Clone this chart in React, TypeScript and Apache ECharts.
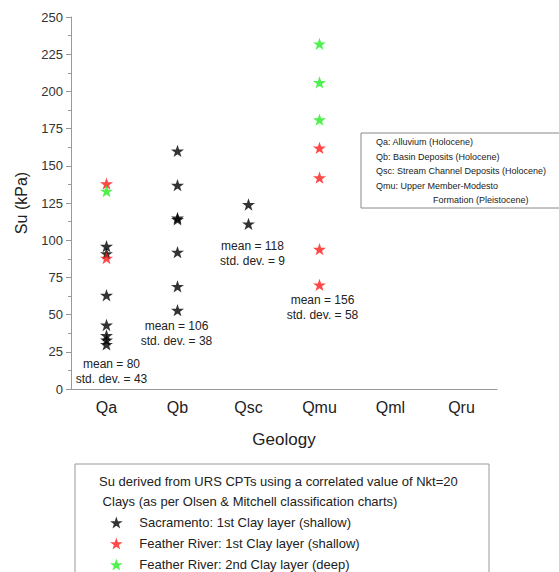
import React, { useEffect, useRef } from "react";
import * as echarts from "echarts";

const categories = ["Qa", "Qb", "Qsc", "Qmu", "Qml", "Qru"];

const sacramento: [string, number][] = [
  ["Qa", 96], ["Qa", 91], ["Qa", 63], ["Qa", 43], ["Qa", 36], ["Qa", 33], ["Qa", 30],
  ["Qb", 160], ["Qb", 137], ["Qb", 115], ["Qb", 114], ["Qb", 92], ["Qb", 69], ["Qb", 53],
  ["Qsc", 124], ["Qsc", 111],
];
const featherShallow: [string, number][] = [
  ["Qa", 138], ["Qa", 88],
  ["Qmu", 162], ["Qmu", 142], ["Qmu", 94], ["Qmu", 70],
];
const featherDeep: [string, number][] = [
  ["Qa", 133],
  ["Qmu", 232], ["Qmu", 206], ["Qmu", 181],
];

const statNotes = [
  { cat: "Qa", y: 12, dx: 5, text: "mean = 80\nstd. dev. = 43" },
  { cat: "Qb", y: 37, dx: -1, text: "mean = 106\nstd. dev. = 38" },
  { cat: "Qsc", y: 91, dx: 4, text: "mean = 118\nstd. dev. = 9" },
  { cat: "Qmu", y: 55, dx: 3, text: "mean = 156\nstd. dev. = 58" },
];

const geologyNotes = [
  "Qa: Alluvium (Holocene)",
  "Qb: Basin Deposits (Holocene)",
  "Qsc: Stream Channel Deposits (Holocene)",
  "Qmu: Upper Member-Modesto",
  "Formation (Pleistocene)",
];

const legendHeader = [
  "Su derived from URS CPTs using a correlated value of Nkt=20",
  " Clays (as per Olsen & Mitchell classification charts)",
];

const seriesNames = [
  "Sacramento: 1st Clay layer (shallow)",
  "Feather River: 1st Clay layer (shallow)",
  "Feather River: 2nd Clay layer (deep)",
];

const STAR =
  "path://M50,0 L61.8,35.1 L98.1,35.1 L68.8,56.7 L79.4,91 L50,70 L20.6,91 L31.2,56.7 L1.9,35.1 L38.2,35.1 Z";

const FONT = "Liberation Sans, Arial, sans-serif";

export default function App() {
  const ref = useRef<HTMLDivElement>(null);
  useEffect(() => {
    if (!ref.current) return;
    const chart = echarts.init(ref.current, null, { renderer: "svg" });
    const colors = ["#000000", "#ff1a1a", "#22ee22"];
    const datasets = [sacramento, featherShallow, featherDeep];
    const series: any[] = datasets.map((d, i) => ({
      name: seriesNames[i],
      type: "scatter",
      data: d,
      symbol: STAR,
      symbolSize: 13,
      symbolKeepAspect: true,
      itemStyle: { color: colors[i] },
      z: i === 2 ? 3 : 2,
    }));
    series[0].markPoint = {
      symbol: "circle",
      symbolSize: 0,
      silent: true,
      data: statNotes.map((n) => ({
        coord: [n.cat, n.y],
        label: {
          show: true,
          formatter: n.text,
          position: "inside",
          offset: [n.dx, 0],
          fontSize: 12,
          lineHeight: 15,
          color: "#222",
          fontFamily: FONT,
        },
      })),
    };
    const graphic: any[] = [
      {
        type: "rect",
        shape: { x: 361, y: 133, width: 205, height: 75 },
        style: { fill: "#fff", stroke: "#888", lineWidth: 1 },
        z: 10,
      },
      ...geologyNotes.map((t, i) => ({
        type: "text",
        x: i === 4 ? 433 : 376,
        y: 142 + i * 14.5,
        style: { text: t, fontSize: 9, fill: "#222", fontFamily: FONT, verticalAlign: "middle" },
        z: 11,
      })),
      {
        type: "rect",
        shape: { x: 75, y: 464, width: 414, height: 120 },
        style: { fill: "none", stroke: "#999", lineWidth: 1 },
        z: 10,
      },
      ...legendHeader.map((t, i) => ({
        type: "text",
        x: 99,
        y: 481 + i * 20.5,
        style: { text: t, fontSize: 13, fill: "#222", fontFamily: FONT, verticalAlign: "middle" },
        z: 11,
      })),
    ];
    chart.setOption({
      animation: false,
      backgroundColor: "#fff",
      grid: { left: 71, right: 62, top: 17, bottom: 183 },
      legend: {
        orient: "vertical",
        left: 110,
        top: 516,
        padding: 0,
        itemWidth: 14,
        itemHeight: 12,
        itemGap: 8,
        icon: STAR,
        data: seriesNames,
        textStyle: { fontSize: 13, color: "#222", fontFamily: FONT, padding: [0, 0, 0, 11] },
        selectedMode: false,
      },
      xAxis: {
        type: "category",
        data: categories,
        boundaryGap: true,
        name: "Geology",
        nameLocation: "middle",
        nameGap: 42,
        nameTextStyle: { fontSize: 17, color: "#222", fontFamily: FONT },
        axisLine: { lineStyle: { color: "#999" } },
        axisTick: { alignWithLabel: true, length: 5, lineStyle: { color: "#999" } },
        axisLabel: { fontSize: 16, color: "#222", fontFamily: FONT, margin: 10 },
        splitLine: { show: false },
      },
      yAxis: {
        type: "value",
        min: 0,
        max: 250,
        interval: 25,
        name: "Su (kPa)",
        nameLocation: "middle",
        nameGap: 42,
        nameTextStyle: { fontSize: 16, color: "#222", fontFamily: FONT },
        axisLine: { show: true, lineStyle: { color: "#999" } },
        axisTick: { show: true, length: 5, lineStyle: { color: "#999" } },
        minorTick: { show: true, splitNumber: 2, length: 3, lineStyle: { color: "#999" } },
        axisLabel: { fontSize: 13, color: "#333", fontFamily: FONT, margin: 8 },
        splitLine: { show: false },
      },
      graphic,
      series,
    });
    return () => chart.dispose();
  }, []);
  return <div ref={ref} style={{ width: 559, height: 572, position: "absolute", left: 0, top: 0 }} />;
}
